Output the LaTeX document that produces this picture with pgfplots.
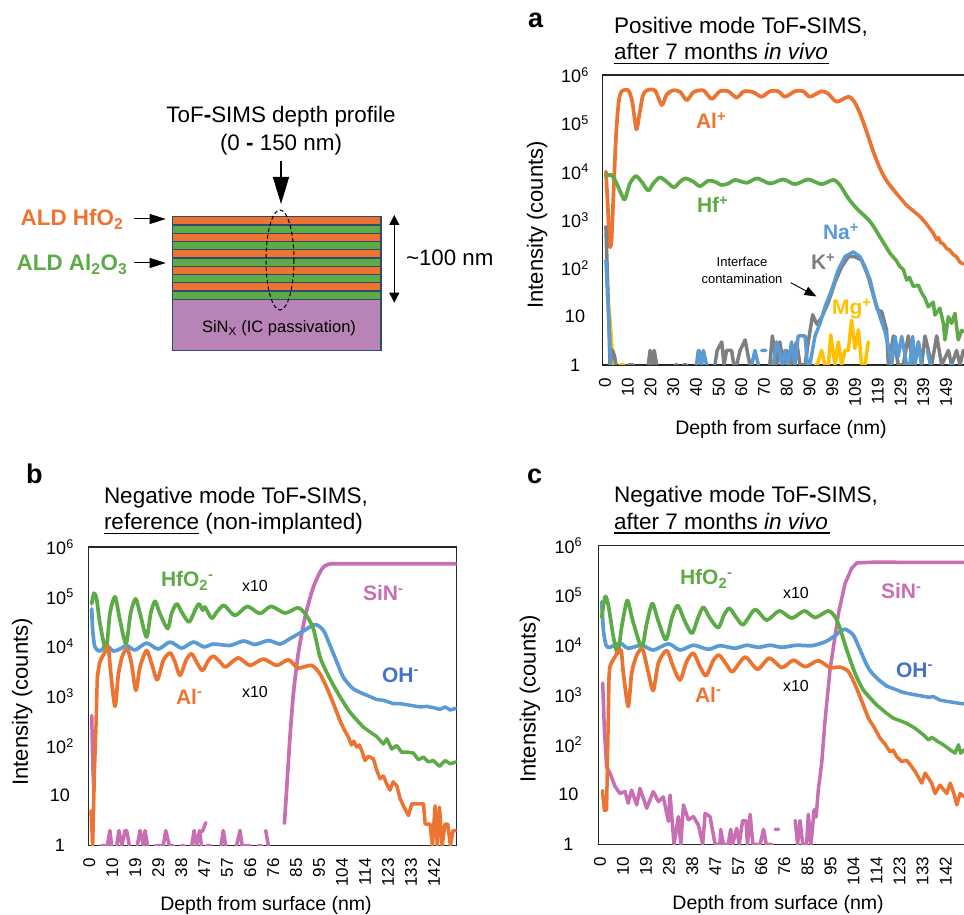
\documentclass[border=0pt]{standalone}
\usepackage{fontspec}
\setmainfont{Liberation Sans}
\usepackage{pgfplots}
\pgfplotsset{compat=1.18}
\usetikzlibrary{arrows.meta}
\definecolor{cOr}{HTML}{ED7331}
\definecolor{cGr}{HTML}{5DAB47}
\definecolor{cBl}{HTML}{5B9BD5}
\definecolor{cPk}{HTML}{C76FB2}
\definecolor{cGy}{HTML}{7F7F7F}
\definecolor{cYe}{HTML}{FFC000}
\definecolor{cOH}{HTML}{4472C4}
\definecolor{cSi}{HTML}{B884B8}
\definecolor{cNv}{HTML}{2F4B6E}
\newcommand\fs[1]{\fontsize{#1}{#1}\selectfont}
\pgfplotsset{
  scale only axis, ymin=1, ymax=1e6,
  axis line style={black!85,line width=1.3pt},
  major tick length=0pt, minor tick length=0pt,
  ytick={1,10,100,1000,10000,100000,1000000},
  yticklabels={1,10,10\textsuperscript{2},10\textsuperscript{3},10\textsuperscript{4},10\textsuperscript{5},10\textsuperscript{6}},
  minor ytick={},
  xticklabel style={font=\fs{17},rotate=90,anchor=east,inner sep=0pt},
  xticklabel shift=12.5pt,
  yticklabel style={font=\fs{18},anchor=center,inner sep=0pt},
  xlabel style={font=\fs{19.5},anchor=base,inner sep=0pt},
  ylabel style={font=\fs{22},anchor=center,inner sep=0pt},
  unbounded coords=jump,
  xlabel={Depth from surface (nm)},
  ylabel={Intensity (counts)},
}
\tikzset{
 mainline/.style={line width=3.7pt,line join=round,line cap=round,smooth,tension=0.45},
 noisyline/.style={line width=3.5pt,line join=round,line cap=round}}
\begin{document}
\begin{tikzpicture}
\useasboundingbox (0pt,0pt) rectangle (964pt,914pt);

% ---------- panel a
\begin{semilogyaxis}[at={(602.5pt,549pt)},anchor=south west,width=363.5pt,height=290pt,
  xmin=-1.09,xmax=157.7,
  xtick={0,9.93,19.86,29.79,39.72,49.65,59.58,69.51,79.44,89.37,99.3,109.23,119.16,129.09,139.02,148.95},
  xticklabels={0,10,20,30,40,50,60,70,80,90,99,109,119,129,139,149},
  yticklabel style={xshift=-27.5pt},
  xlabel style={at={(axis description cs:0.491,-0.238)}},
  ylabel style={at={(axis description cs:-0.18,0.483)}}]
% Al+
\addplot[mainline,no markers,cOr] coordinates {(0.4,1e4)(1.3,1620)(1.9,302)(2.8,355)(3.6,2570)(4.8,5.3e4)(6,2.8e5)(7.3,4.6e5)(10.2,4.8e5)(11.9,2.8e5)(13.7,7.5e4)(15,1.5e5)(16.5,3.7e5)(18.2,4.8e5)(21.8,4.8e5)(24.8,2.4e5)(26.9,3.9e5)(29.6,4.8e5)(32.8,4.5e5)(35.7,3e5)(38.6,4.4e5)(43,4.8e5)(46.6,3.2e5)(50.2,4.6e5)(53.9,4.6e5)(57.5,3.4e5)(60.7,4.6e5)(64.8,4.4e5)(68.4,3.55e5)(72.1,4.6e5)(75.7,4.6e5)(78.6,3.55e5)(83,4.6e5)(86.6,4.6e5)(89.5,3.55e5)(94.6,4.6e5)(97.6,4.07e5)(101.2,2.8e5)(106.3,3.55e5)(108.9,2.8e5)(111.4,1.6e5)(114.3,6.7e4)(117.2,2.6e4)(120.1,1.17e4)(123,6500)(127.4,3500)};
\addplot[noisyline,no markers,cOr] coordinates {(127.4,3500)(131.8,2000)(134.5,1560)(137.6,1180)(140.5,820)(143.4,530)(144.9,390)(145.7,430)(146.6,340)(147.8,320)(149.2,257)(150.5,240)(152.2,190)(153.5,175)(155,135)(156.5,123)};
% Hf+
\addplot[mainline,no markers,cGr] coordinates {(0.4,8100)(2.9,8500)(5.1,5700)(7.3,3300)(8.7,2700)(10.9,5700)(13.5,8100)(16,6200)(18.9,4070)(21.1,5700)(24,7600)(26.9,6200)(30.1,4750)(32.8,6200)(35.2,7250)(38.6,6200)(41.5,5000)(45.1,6500)(48,6200)(51,5300)(53.9,5700)(56.8,6760)(61.9,5900)(66.5,7250)(72.1,5700)(77.9,6900)(83,5500)(88.8,6900)(94.6,5500)(99.7,6760)(102.6,5300)(106.3,2800)(109.9,1740)(115.8,930)(120,455)(124.5,204)};
\addplot[noisyline,no markers,cGr] coordinates {(124.5,204)(127,150)(128.9,108)(130.3,95)(131.8,57)(133,65)(134.7,42)(136.9,45)(138.2,32)(139.8,24)(141.2,16)(143.4,20)(144.1,10.8)(146.3,15)(147.8,7.3)(148.5,3.3)(150,10)(151.4,7.3)(152.9,11.7)(154.3,3.3)(155.8,5.2)(156.8,4.9)};
% Mg+
\addplot[noisyline,no markers,cYe] coordinates {(1,30)(2.2,8.5)(3.6,1)(3.7,nan)(6.6,1)(8.3,1)(8.4,nan)(91.7,1)(92.7,1)(94.6,2)(96.1,1)(96.2,nan)(97.6,1)(98.6,4.2)(100.5,1)(101.9,3)(103.4,1)(104.8,2)(106.3,2)(107.7,8.5)(109.2,2.2)(110.7,5.3)(112.1,1)(113.6,1)(115,3)};
% K+
\addplot[noisyline,no markers,cGy] coordinates {(0.4,725)(1.3,30)(2.2,1)(3.3,2)(4.2,1.5)(4.8,1)(4.9,nan)(10.2,1)(12.4,1)(12.5,nan)(18.9,1)(19.7,2)(20.7,1)(21.5,2)(22.6,1)(22.7,nan)(30.6,1)(31.6,1)(31.7,nan)(34.2,1)(35.7,1)(35.8,nan)(40,1)(40.8,2)(42.2,1)(42.3,nan)(48,1)(49,2)(51,3)(52,1)(53.1,2)(55.3,2)(56.3,1)(57.5,1)(59,2)(61.2,3.3)(63.3,1)(63.4,nan)(72,1)(73.1,4)(75,1)(76.4,3)(77.9,1)(79.4,2)(81.1,1)(83.7,3)(85.2,1)(87.4,1)(88.8,3)(90.7,11)(92.5,7)(94.6,9.5)(97.6,20)(100.5,52)(103.4,108)(106.3,174)(109.2,174)(112.1,148)(115,67)(117.2,28)(119,14)(120.9,12.6)(123,5.3)(123.8,1)(126,4)(128.1,1)(130.3,1)(132.5,4)(134.7,1)(136.9,3)(138.3,1)(139.8,4)(142.7,1)(144.9,4)(147.1,1)(150,2)(151.4,1)(153.6,2)(155.1,1)(156.5,2)};
% Na+
\addplot[noisyline,no markers,cBl] coordinates {(0.4,148)(1.9,5)(2.5,1)(2.6,nan)(40,1)(41.1,2)(42.2,1)(43,2)(44.4,1)(44.5,nan)(64.1,1)(65.5,2)(67,1)(67.1,nan)(68.4,2)(70.3,2)(70.4,nan)(73.5,1)(75,3)(76.1,2)(77.2,1)(78.6,2)(80,1)(81.5,3)(83,1)(84.4,4)(87.4,4)(88.4,1)(89.5,1)(90.6,2)(91.7,3.9)(93.9,7.2)(96.1,16)(99,35.5)(101.9,93)(104.8,174)(108.5,219)(111.4,174)(113.6,107)(115.8,57.5)(117.9,22)(120.1,10)(122.3,4.9)(123.8,2.4)(125.2,1)(126.7,3.9)(128.1,1.5)(129.6,3.9)(131.8,1)(133.2,1)(134.4,3.9)(135.4,1)(136.9,3)(138.3,1)(138.4,nan)(140.8,2)(142.2,1)(142.3,nan)(150.7,1)(152.2,1)};
\end{semilogyaxis}

% ---------- panel b
\begin{semilogyaxis}[at={(88.5pt,68.5pt)},anchor=south west,width=368.2pt,height=298.5pt,
  xmin=-0.33,xmax=151.4,
  xtick={0,9.47,18.94,28.41,37.88,47.35,56.82,66.29,75.76,85.23,94.7,104.17,113.64,123.11,132.58,142.05},
  xticklabels={0,10,19,29,38,47,57,66,76,85,95,104,114,123,133,142},
  yticklabel style={xshift=-28.5pt},
  xlabel style={at={(axis description cs:0.482,-0.219)}},
  ylabel style={at={(axis description cs:-0.18,0.481)}}]
% SiN- (floor)
\addplot[noisyline,no markers,cPk] coordinates {(1,410)(1.4,44)(1.9,12)(2,nan)(5,1)(6.9,1)(7.4,1)(8.5,2)(9.2,1)(9.3,nan)(11.3,1)(12.2,2)(13.4,1)(14.7,2)(15.4,2)(16.5,1)(16.6,nan)(19.8,1)(20.9,2)(22.3,1)(23,2)(24,1)(24.1,nan)(27.1,1)(30.5,1)(31.5,2)(33,1)(34.6,1)(34.7,nan)(38,1)(39,1)(39.1,nan)(42.2,1)(43.2,2)(44.2,1)(45.5,2)(46.2,1)(46.3,nan)(46.6,1.9)(48,2.9)(48.1,nan)(48.4,1)(50,1)(50.1,nan)(54.3,1)(55.2,2)(56.2,1)(56.3,nan)(60.7,1)(62.1,2)(63,1)(64.1,1)(66.2,1)(66.3,nan)(69.7,1)(71,1)(71.1,nan)(72.7,2)(73.8,1)};
\addplot[mainline,no markers,cPk] coordinates {(80.4,2.8)(81.3,13)(82.7,150)(84.1,1120)(86.1,7100)(88.9,3.9e4)(92.3,1.55e5)(95.8,3.6e5)(98.5,4.5e5)(103.3,4.6e5)(125,4.6e5)(151.4,4.6e5)};
% OH-
\addplot[mainline,no markers,cBl] coordinates {(1,5.7e4)(1.4,2.1e4)(2.3,9800)(4.4,8100)(7.1,1.05e4)(9.9,8100)(12.6,8900)(15.4,1.05e4)(18.8,8500)(23.6,1.17e4)(28.4,8900)(33.3,1.23e4)(38.1,9300)(42.9,1.23e4)(47.3,9800)(51.1,1.12e4)(58,1.05e4)(63.5,1.29e4)(68.3,1.1e4)(73.8,1.32e4)(78.6,1.12e4)(82.7,1.44e4)(87.5,1.95e4)(93,2.75e4)(96.5,2.1e4)(99.2,1.05e4)(102,4900)(104.7,2400)(108.8,1410)(114.3,1050)};
\addplot[noisyline,no markers,cBl] coordinates {(114.3,1050)(118.4,860)(121.2,830)(125.3,710)(128,710)(132.2,660)(136.3,610)(139,625)(141.8,590)(144.5,545)(146.6,610)(148.7,530)(151.4,575)};
% HfO2-
\addplot[mainline,no markers,cGr] coordinates {(1,7.2e4)(1.9,1.18e5)(3,9.1e4)(4.4,2.9e4)(6.9,8500)(8.5,4.6e4)(10.6,1e5)(12.4,3.9e4)(15.1,1.13e4)(17,4.6e4)(19.1,9.1e4)(20.9,4.6e4)(23.6,1.55e4)(25.3,4.6e4)(27.1,8.1e4)(29.1,4.6e4)(32.3,2.3e4)(33.9,4.6e4)(36,7.2e4)(38.1,4.9e4)(41.1,3.1e4)(43.6,5.4e4)(45.2,7.2e4)(46.7,5.4e4)(47.7,6.2e4)(50.4,3.7e4)(52.5,4.9e4)(55.5,6.7e4)(60,4.2e4)(65.1,6.4e4)(70.3,4.6e4)(74.9,6.4e4)(80.7,4.7e4)(85.9,6e4)(88.9,4.6e4)(92.3,2.3e4)(95.1,6100)(98.5,2600)(102.6,1120)(107.4,480)(112.9,240)};
\addplot[noisyline,no markers,cGr] coordinates {(112.9,240)(118.4,155)(121.2,110)(122.6,139)(124.6,87)(126.7,102)(128.7,75)(131.5,75)(133.6,72)(135.6,53)(137.7,60)(139.7,48)(141.8,51)(144.3,39)(146.6,51)(148.7,44)(151.4,48)};
% Al-
\addplot[noisyline,no markers,cOr] coordinates {(0.7,5)(1.4,1)(2.1,30)(2.7,204)(3.3,2400)};
\addplot[mainline,no markers,cOr] coordinates {(3.3,2400)(4.4,4900)(6.5,7760)(7.8,9770)(8.9,2800)(10.6,630)(12,2800)(13.7,6600)(15.7,8900)(17.4,4500)(19.2,1320)(20.9,3900)(23.6,8300)(25.7,4500)(28,2140)(30.5,5250)(33.3,7400)(35.3,4900)(37.4,2630)(40.1,5600)(42.2,7100)(44.2,4900)(46.6,3300)(49.1,5250)(51.1,6400)(53.9,4900)(56.2,3900)(61.4,5900)(66.2,4170)(71.7,5600)(77.2,4170)(82,5400)(86.1,3700)(91.6,4170)(95.1,2800)(97.8,1510)(100.6,710)(103.3,325)};
\addplot[noisyline,no markers,cOr] coordinates {(103.3,325)(105,215)(106.8,150)(108,105)(109,125)(110.2,95)(111.3,105)(112.3,80)(113.6,51)(115,62)(117.1,55)(118.5,32)(119.8,22)(121.2,25)(122.6,17)(123.9,13)(125.2,19)(126.7,16)(128,9)(129.4,6.3)(131.5,4)(132.9,6.9)(137.7,6.9)(138.4,2.7)(140.4,2.7)(141.4,1)(142.5,6.3)(143.4,1)(144.3,5.9)(145.4,1)(146.6,2.7)(147.7,2.7)(148.8,1)(149.9,2)(151.4,2)};
\end{semilogyaxis}

% ---------- panel c
\begin{semilogyaxis}[at={(598.3pt,69.7pt)},anchor=south west,width=367.7pt,height=298.6pt,
  xmin=-0.7,xmax=150.4,
  xtick={0,9.47,18.94,28.41,37.88,47.35,56.82,66.29,75.76,85.23,94.7,104.17,113.64,123.11,132.58,142.05},
  xticklabels={0,10,19,29,38,47,57,66,76,85,95,104,114,123,133,142},
  yticklabel style={xshift=-30pt},
  xlabel style={at={(axis description cs:0.489,-0.22)}},
  ylabel style={at={(axis description cs:-0.186,0.487)}}]
% SiN-
\addplot[noisyline,no markers,cPk] coordinates {(1.1,1740)(1.8,200)(2.7,36)(4.1,27)(6.2,14.5)(8.2,10.5)(10.3,11.5)(11.6,6.7)(13,12.3)(15.1,6.2)(16.4,13.4)(19.2,5.3)(21.9,11.5)(24,7.2)(26,9)(28.1,2.9)(28.8,9.8)(30.4,1)(32.2,3.6)(33.2,1)(34.3,6.2)(36.3,3.1)(38.4,3.6)(40.4,2.45)(42.2,1)(43.2,4.2)(45.2,3.6)(47.3,1)(49.3,1)(49.6,2)(50.7,1)(52.7,1)(53.7,2)(54.5,1)(56.2,2.1)(57.2,1)(58.6,3)(60,3)(60.6,1)(61.7,4)(62.8,1)(65.8,1)(67.2,2)(68.3,1)(70.6,1)(70.7,nan)(72,2)(73.4,2)(73.5,nan)(80.2,3)(81.2,1)(82.2,3)(83.3,1)(84.9,1)(85.6,4)(86.7,1)(88,5)(88.8,3.5)(89.7,12.3)(91.1,43)(92.5,316)(94.5,3160)(98,4.4e4)(100.7,1.74e5)(103.4,3.5e5)(105.5,4.5e5)(113.7,4.7e5)(130,4.6e5)(149.6,4.6e5)(151,4.6e5)};
% OH-
\addplot[mainline,no markers,cBl] coordinates {(0.7,7.5e4)(1.4,2e4)(2.5,1e4)(4.1,9100)(8.2,1.1e4)(11.6,8700)(17.1,1e4)(21.9,8000)(28.1,1.07e4)(32.9,8000)(38.4,1e4)(44.5,8300)(49.3,9800)(55.5,8700)(60.3,1e4)(65.1,9100)(69.9,1e4)(74.7,9100)(80.8,1e4)(87,9800)(92.5,1.17e4)(95.9,1.48e4)(98.6,1.86e4)(100.7,2.1e4)(104.1,1.6e4)(106.9,8000)(110.3,3470)(113.7,2190)(117.8,1510)};
\addplot[noisyline,no markers,cBl] coordinates {(117.8,1510)(124.7,1120)(128,1040)(131.5,970)(135,900)(137,930)(139.7,790)(143,740)(146,700)(149.6,660)(151,650)};
% HfO2-
\addplot[mainline,no markers,cGr] coordinates {(0.7,3.6e4)(2.1,9.5e4)(3.4,6.4e4)(5.5,1.48e4)(7.3,6900)(8.9,2.3e4)(11.2,7.9e4)(13.4,3.2e4)(17.1,9100)(19.2,2.75e4)(21.5,6.9e4)(24,3e4)(27.1,1.29e4)(29.5,3.5e4)(31.9,6.3e4)(34.9,3e4)(37.8,1.74e4)(40.4,3.7e4)(42.5,5.8e4)(45.2,3.5e4)(48.6,2.25e4)(51,4.1e4)(53.2,5.5e4)(56.2,3.5e4)(58.9,2.6e4)(63.7,5.2e4)(68.5,3.2e4)(73.7,4.9e4)(78.8,3.5e4)(84,4.9e4)(88.4,3.6e4)(93.8,4.9e4)(96.6,3.7e4)(98.6,2.2e4)(101.4,8000)(104.8,2750)(108.2,1260)(113.7,630)};
\addplot[noisyline,no markers,cGr] coordinates {(113.7,630)(117.8,427)(120.6,340)(123.3,305)(126,270)(129.5,214)(132.9,158)(135,125)(136.3,141)(139,115)(141.1,100)(143.9,79)(145.9,68)(147.3,100)(148.2,68)(149.6,79)(151,75)};
% Al-
\addplot[noisyline,no markers,cOr] coordinates {(1,12)(1.8,4.8)(2.7,4.9)(3,31)(3.7,2000)};
\addplot[mainline,no markers,cOr] coordinates {(3.7,2000)(4.1,3700)(6.2,5900)(8.6,8000)(9.6,2750)(11.6,590)(13,2750)(15.1,6300)(17.5,8300)(19.9,2750)(21.9,1230)(24,4400)(27.4,7800)(30.1,3700)(32.9,2000)(35.6,4700)(38.4,6900)(41.1,3700)(43.6,2450)(46.6,5000)(49,6300)(52.1,4000)(54.5,2950)(59.6,5750)(64.7,3300)(69.6,5500)(74.7,3550)(79.5,5000)(84.3,3700)(89.7,4900)(94.5,3550)(98.6,3630)(102.1,2950)(105.5,1350)(110.3,340)};
\addplot[noisyline,no markers,cOr] coordinates {(110.3,340)(112.5,230)(115.1,135)(117,105)(119.2,72)(120.5,78)(121.9,58)(124,46)(126,49)(127.8,38)(129.5,29)(132.2,17)(133.6,27)(136.3,17)(137.7,10.5)(139.7,15.5)(142.5,10.5)(143.9,17)(145.6,9.8)(146.6,6.2)(148,10.5)(149.6,9.1)(151,9)};
\end{semilogyaxis}

% ---------- annotations and schematic, in reference pixels
\begin{scope}[x=1pt,y=-1pt,yshift=914pt,every node/.style={inner sep=0pt,outer sep=0pt}]
% panel letters
\node[anchor=base west,font=\fs{27}\bfseries] at (528,28) {a};
\node[anchor=base west,font=\fs{27}\bfseries] at (26,484) {b};
\node[anchor=base west,font=\fs{27}\bfseries] at (527,484) {c};
% titles
\node[anchor=base west,font=\fs{22.5}] at (614,33.3) {Positive mode ToF{\bfseries -}SIMS,};
\node[anchor=base west,font=\fs{22.5}] at (614,60) {after 7 months \textit{in vivo}};
\draw[line width=1.3pt] (614,63.3) -- (829,63.3);
\node[anchor=base west,font=\fs{22.5}] at (104,503.3) {Negative mode ToF{\bfseries -}SIMS,};
\node[anchor=base west,font=\fs{22.5}] at (104,530) {reference (non-implanted)};
\draw[line width=1.3pt] (104,533.5) -- (199,533.5);
\node[anchor=base west,font=\fs{22.5}] at (614,502.5) {Negative mode ToF{\bfseries -}SIMS,};
\node[anchor=base west,font=\fs{22.5}] at (614,529.5) {after 7 months \textit{in vivo}};
\draw[line width=1.3pt] (614,533) -- (830,533);
% panel a labels
\node[anchor=base west,font=\fs{21}\bfseries,text=cOr] at (696,129) {Al\textsuperscript{+}};
\node[anchor=base west,font=\fs{21}\bfseries,text=cGr] at (697,213) {Hf\textsuperscript{+}};
\node[anchor=base west,font=\fs{21}\bfseries,text=cBl] at (823,240) {Na\textsuperscript{+}};
\node[anchor=base west,font=\fs{21}\bfseries,text=cGy] at (811,270) {K\textsuperscript{+}};
\node[anchor=base west,font=\fs{21}\bfseries,text=cYe] at (832,315) {Mg\textsuperscript{+}};
\node[anchor=base,font=\fs{13}] at (742,267) {Interface};
\node[anchor=base,font=\fs{13}] at (742,284) {contamination};
\draw[line width=0.9pt,-{Triangle[length=12pt,width=9pt]}] (790.7,282.7) -- (816.5,296.5);
% panel b labels
\node[anchor=base west,font=\fs{21}\bfseries,text=cGr] at (161,587) {HfO\textsubscript{2}\textsuperscript{-}};
\node[anchor=base west,font=\fs{16}] at (242,592) {x10};
\node[anchor=base west,font=\fs{16}] at (242,697) {x10};
\node[anchor=base west,font=\fs{21}\bfseries,text=cPk] at (363,601) {SiN\textsuperscript{-}};
\node[anchor=base west,font=\fs{21}\bfseries,text=cOH] at (382,682) {OH\textsuperscript{-}};
\node[anchor=base west,font=\fs{21}\bfseries,text=cOr] at (176,704) {Al\textsuperscript{-}};
% panel c labels
\node[anchor=base west,font=\fs{21}\bfseries,text=cGr] at (680,585) {HfO\textsubscript{2}\textsuperscript{-}};
\node[anchor=base west,font=\fs{16}] at (783,598) {x10};
\node[anchor=base west,font=\fs{16}] at (783,691) {x10};
\node[anchor=base west,font=\fs{21}\bfseries,text=cPk] at (881,599) {SiN\textsuperscript{-}};
\node[anchor=base west,font=\fs{21}\bfseries,text=cOH] at (896,677) {OH\textsuperscript{-}};
\node[anchor=base west,font=\fs{21}\bfseries,text=cOr] at (695,702) {Al\textsuperscript{-}};
% schematic
\node[anchor=base,font=\fs{22.4}] at (281,123) {ToF{\bfseries -}SIMS depth profile};
\node[anchor=base,font=\fs{22.4}] at (281,151) {(0 {\bfseries -} 150 nm)};
\draw[line width=1.2pt,-{Triangle[length=27pt,width=16pt]}] (281,160.7) -- (281,204);
\fill[cSi] (172.7,299.3) rectangle (381,350.7);
\foreach \i/\c in {0/cOr,1/cGr,2/cOr,3/cGr,4/cOr,5/cGr,6/cOr,7/cGr,8/cOr,9/cGr}{
  \fill[\c] (172.7,216.7+8.26*\i) rectangle (381,216.7+8.26*\i+8.26);
}
\foreach \i in {1,...,10}{
  \draw[cNv,line width=1.1pt] (172.7,216.7+8.26*\i) -- (381,216.7+8.26*\i);
}
\draw[cNv,line width=1.1pt] (172.7,216.7) rectangle (381,350.7);
\draw[black,line width=1pt,dash pattern=on 4pt off 2.5pt] (280,260) ellipse [x radius=14,y radius=50];
\node[anchor=base,font=\fs{16.5}] at (279,332.7) {SiN\textsubscript{X} (IC passivation)};
\draw[line width=1pt,{Triangle[length=10pt,width=10pt]}-{Triangle[length=10pt,width=10pt]}] (394.3,215) -- (394.3,302.7);
\node[anchor=base west,font=\fs{22.3}] at (406,265.7) {\textasciitilde 100 nm};
\node[anchor=base west,font=\fs{22.4}\bfseries,text=cOr] at (20.7,225.7) {ALD HfO\textsubscript{2}};
\node[anchor=base west,font=\fs{22.4}\bfseries,text=cGr] at (16.7,271) {ALD Al\textsubscript{2}O\textsubscript{3}};
\draw[line width=1pt,-{Triangle[length=16pt,width=10pt]}] (134.3,219) -- (165.7,219);
\draw[line width=1pt,-{Triangle[length=16pt,width=10pt]}] (134.3,263) -- (165.7,263);
\end{scope}
\end{tikzpicture}
\end{document}
